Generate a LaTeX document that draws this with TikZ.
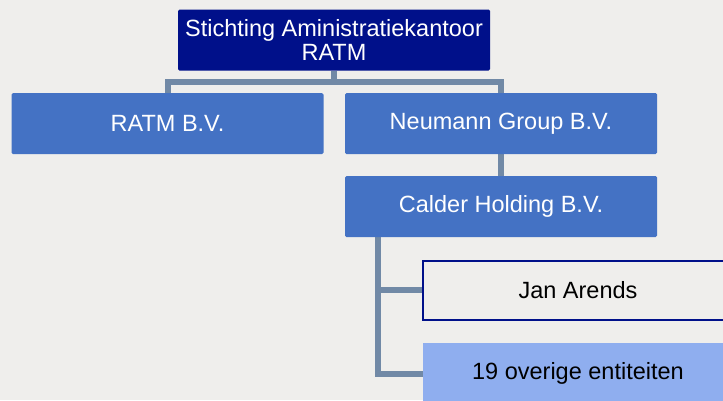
\documentclass[tikz,border=0pt]{standalone}
\usepackage{fontspec}
\setmainfont{Liberation Sans}
\usetikzlibrary{positioning,calc,backgrounds}
\definecolor{bg}{HTML}{EFEEEC}
\definecolor{navy}{HTML}{00108A}
\definecolor{mid}{HTML}{4472C4}
\definecolor{pale}{HTML}{8FAEEF}
\definecolor{line}{HTML}{7189A6}
\tikzset{
  box/.style={rounded corners=1.5pt,inner sep=2pt,align=center,minimum width=312pt,minimum height=61pt,font=\fontsize{23.5}{24.5}\selectfont,text=white,fill=mid},
  boxtop/.style={box,fill=navy},
  boxw/.style={box,minimum width=310pt,minimum height=59pt,rounded corners=0pt,fill=bg,draw=navy,line width=2pt,text=black},
  boxl/.style={box,minimum width=310pt,rounded corners=0pt,fill=pale,text=black},
  conn/.style={draw=line,line width=6pt},
}
\begin{document}
\begin{tikzpicture}[x=1pt,y=-1pt]
\clip (0,0) rectangle (723,400);
\node[boxtop] (stak) at (334,40) {Stichting Aministratiekantoor\\RATM};
\node[box] (ratm) at (167.5,123.5) {RATM B.V.};
\node[box] (neumann) at (501,123.5) {Neumann Group B.V.};
\node[box] (calder) at (501,206.5) {Calder Holding B.V.};
\node[boxw] (jan) at (578,290) {Jan Arends};
\node[boxl] (overig) at (578,373.5) {19 overige entiteiten};
\coordinate (split) at ($(stak.south)+(0,11)$);
\coordinate (trunk) at ([xshift=33pt]calder.south west);
\begin{scope}[on background layer]
\fill[bg] (0,0) rectangle (723,400);
\draw[conn] (stak.south) -- (split) -| (ratm.north);
\draw[conn] (split) -| (neumann.north);
\draw[conn] (neumann.south) -- (calder.north);
\draw[conn] (trunk) |- (jan.west);
\draw[conn] (trunk) |- (overig.west);
\end{scope}
\end{tikzpicture}
\end{document}
